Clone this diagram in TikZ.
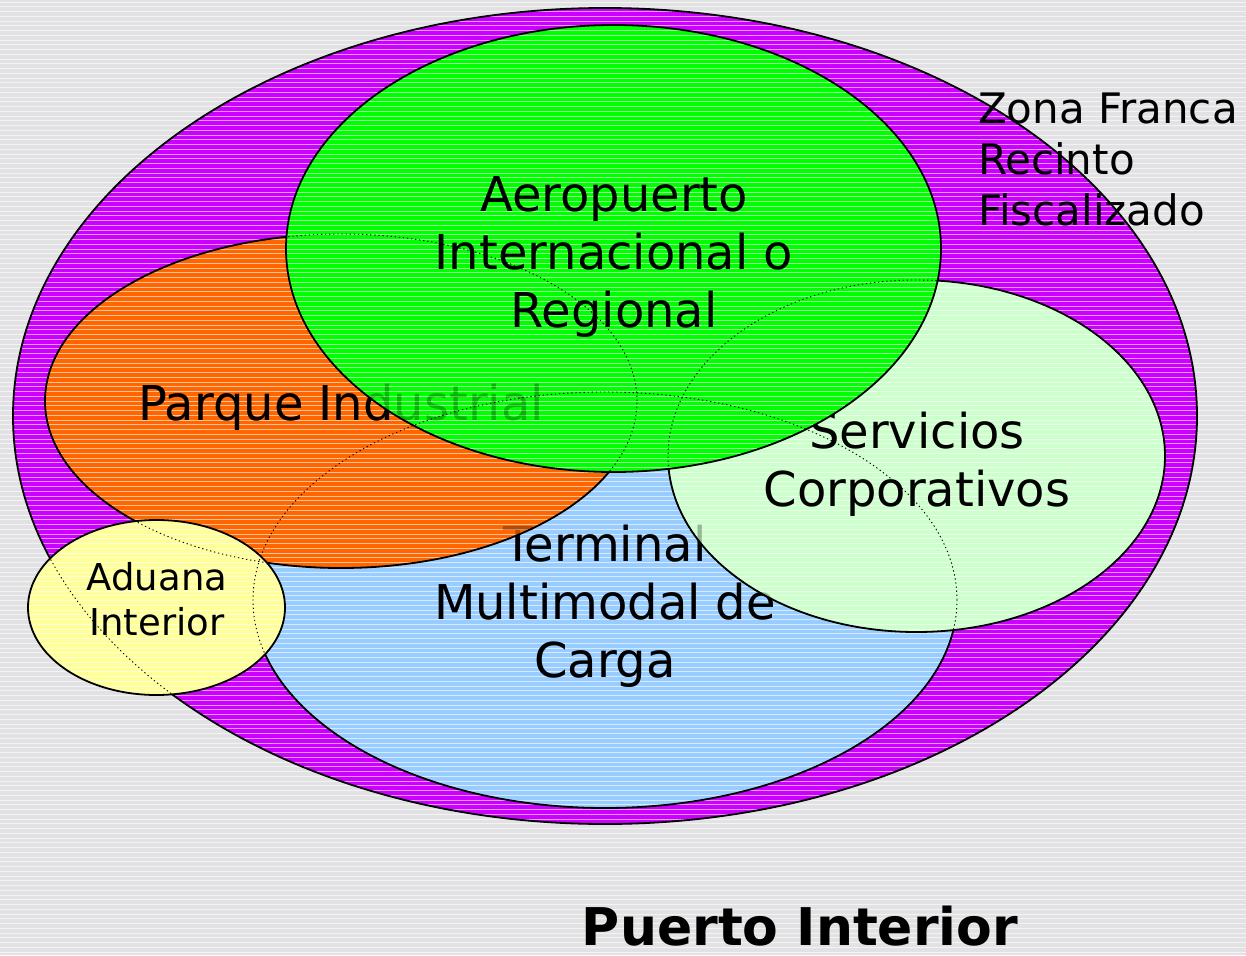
\documentclass[tikz,border=0pt]{standalone}
\usepackage{fontspec}
\setmainfont{DejaVu Sans}
\usetikzlibrary{shapes.geometric}
\definecolor{bgc}{RGB}{226,226,229}
\definecolor{zona}{RGB}{204,0,255}
\definecolor{aero}{RGB}{0,255,0}
\definecolor{parque}{RGB}{255,102,0}
\definecolor{termc}{RGB}{153,204,255}
\definecolor{serv}{RGB}{204,255,204}
\definecolor{adu}{RGB}{255,255,153}
\newcommand{\mystripes}{%
  \foreach \i in {0,...,200} {
    \draw[white, opacity=0.6, line width=0.9pt] (0,{2+\i*4.75}) -- (1246,{2+\i*4.75});
  }%
}
% #1 name, #2 center, #3 x radius, #4 y radius, #5 colour
\newcommand{\stripedoval}[5]{%
  \node[ellipse, inner sep=0pt, outer sep=0pt, fill=#5, minimum width=2*#3, minimum height=2*#4] (#1) at #2 {};
  \begin{scope}
    \clip (#1.center) ellipse [x radius=#3, y radius=#4];
    \mystripes
  \end{scope}
  \draw[border] (#1.center) ellipse [x radius=#3, y radius=#4];
}
\tikzset{
  border/.style={draw=black, line width=1.8pt},
  hid/.style={draw=black, line width=0.9pt, dash pattern=on 1.3pt off 2.8pt},
  lbl/.style={font=\fontsize{48}{58}\selectfont, align=center, text=black, inner sep=0pt, outer sep=0pt},
  ghost/.style={lbl, text opacity=0.28},
}
\begin{document}
\begin{tikzpicture}[x=1pt, y=-1pt]
\useasboundingbox (0,0) rectangle (1246,955);
\fill[bgc] (0,0) rectangle (1246,955);
\begin{scope}
  \clip (0,0) rectangle (1246,955);
  \mystripes
\end{scope}
% outer zone
\stripedoval{zonaell}{(605,416)}{592pt}{408pt}{zona}
% terminal
\stripedoval{termell}{(605,600)}{352pt}{208pt}{termc}
\node[lbl] (termtxt) at (605,606.5) {Terminal\\Multimodal de\\Carga};
% parque industrial
\stripedoval{parqell}{(341,401)}{296pt}{167pt}{parque}
\node[lbl, anchor=base] (parqtxt) at (341,420) {Parque Industrial};
% servicios
\stripedoval{servell}{(916.5,456)}{248.5pt}{176pt}{serv}
\node[lbl] (servtxt) at (917,464) {Servicios\\Corporativos};
% aeropuerto
\stripedoval{aeroell}{(613.5,248.5)}{327.5pt}{223.5pt}{aero}
\node[lbl] (aerotxt) at (614,256.5) {Aeropuerto\\Internacional o\\Regional};
% aduana
\stripedoval{aduell}{(156.5,607.5)}{128.5pt}{87.5pt}{adu}
\node[lbl, font=\fontsize{37}{45}\selectfont] (adutxt) at (157,599) {Aduana\\Interior};
% hidden outlines
\draw[hid] (zonaell.center) ellipse [x radius=592pt, y radius=408pt];
\draw[hid] (termell.center) ellipse [x radius=352pt, y radius=208pt];
\draw[hid] (parqell.center) ellipse [x radius=296pt, y radius=167pt];
\draw[hid] (servell.center) ellipse [x radius=248.5pt, y radius=176pt];
% hidden text
\node[ghost, anchor=base] (parqghost) at (parqtxt.base) {Parque Industrial};
\node[ghost] (termghost) at (termtxt.center) {Terminal\\Multimodal de\\Carga};
% outside labels
\node[lbl, font=\fontsize{42}{51}\selectfont, align=left, anchor=north west] (zonatxt) at (978,92.5) {Zona Franca\\Recinto\\Fiscalizado};
\node[lbl, font=\fontsize{52}{60}\bfseries\selectfont, anchor=base] (puertotxt) at (800,945) {Puerto Interior};
\end{tikzpicture}
\end{document}
